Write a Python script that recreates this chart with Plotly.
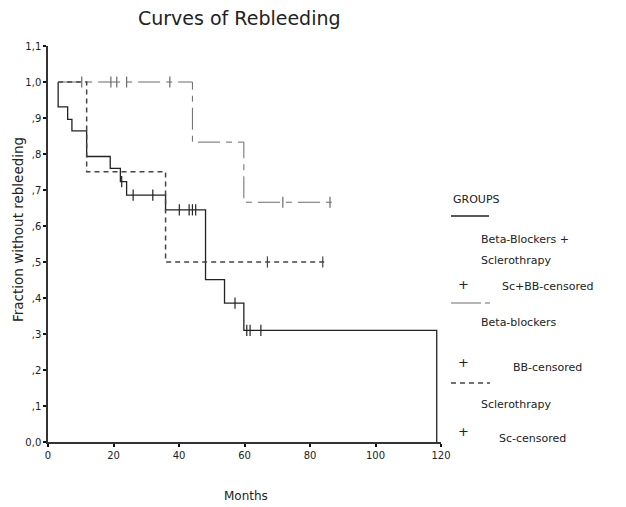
import plotly.graph_objects as go

# ---- data (months, fraction without rebleeding) ----
scbb_t = [3.1, 3.1, 6.0, 7.3, 11.8, 19.0, 22.1, 24.0, 35.9, 48.1, 53.9, 59.8, 118.7]
scbb_s = [1.0, 0.931, 0.896, 0.864, 0.793, 0.760, 0.723, 0.686, 0.645, 0.451, 0.386, 0.310, 0.0]
scbb_cens_t = [22.5, 26.0, 32.0, 40.1, 43.1, 44.1, 45.1, 57.1, 60.7, 61.7, 65.0]
scbb_cens_s = [0.723, 0.686, 0.686, 0.645, 0.645, 0.645, 0.645, 0.386, 0.310, 0.310, 0.310]

bb_t = [3.1, 44.1, 59.8, 87.1]
bb_s = [1.0, 0.833, 0.666, 0.666]
bb_cens_t = [10.3, 19.2, 21.0, 24.0, 37.2, 71.7, 86.1]
bb_cens_s = [1.0, 1.0, 1.0, 1.0, 1.0, 0.666, 0.666]

sc_t = [3.1, 11.8, 35.9, 85.1]
sc_s = [1.0, 0.751, 0.5, 0.5]
sc_cens_t = [67.0, 83.9]
sc_cens_s = [0.5, 0.5]

x_ticks = [0, 20, 40, 60, 80, 100, 120]
y_ticks = [0.0, 0.1, 0.2, 0.3, 0.4, 0.5, 0.6, 0.7, 0.8, 0.9, 1.0, 1.1]
y_ticktext = ["0,0", ",1", ",2", ",3", ",4", ",5", ",6", ",7", ",8", ",9", "1,0", "1,1"]

FONT = "DejaVu Sans"
C_SCBB = "#222222"
C_BB = "#6a6a6a"
C_SC = "#444444"
BB_DASH = "22px,6px,6px,6px"
SC_DASH = "5px,4px"

fig = go.Figure()
fig.add_trace(go.Scatter(x=scbb_t, y=scbb_s, mode="lines", line=dict(shape="hv", color=C_SCBB, width=1.3)))
fig.add_trace(go.Scatter(x=bb_t, y=bb_s, mode="lines", line=dict(shape="hv", color=C_BB, width=1.0, dash=BB_DASH)))
fig.add_trace(go.Scatter(x=sc_t, y=sc_s, mode="lines", line=dict(shape="hv", color=C_SC, width=1.5, dash=SC_DASH)))
for t, s, c in [(scbb_cens_t, scbb_cens_s, C_SCBB), (bb_cens_t, bb_cens_s, C_BB), (sc_cens_t, sc_cens_s, C_SC)]:
    fig.add_trace(go.Scatter(x=t, y=s, mode="markers",
                             marker=dict(symbol="line-ns", size=8, line=dict(color=c, width=1.2))))

# the page body has an 8px margin; reference pixel positions are shifted by it
OFF = 8
L, R, T, B = 48 - OFF, 441 - OFF, 46 - OFF, 442 - OFF
W, H = 626 - OFF, 507 - OFF

def px(p):
    return (p - OFF - L) / (R - L)

def py(p):
    return (B - (p - OFF)) / (B - T)

fig.update_layout(
    width=W, height=H,
    margin=dict(l=L, r=W - R, t=T, b=H - B),
    paper_bgcolor="white", plot_bgcolor="white",
    showlegend=False,
    font=dict(family=FONT, color="#222"),
)
fig.update_xaxes(range=[0, 120], tickvals=x_ticks, ticktext=[str(v) for v in x_ticks],
                 showgrid=False, zeroline=False, showline=True, linecolor="#333", linewidth=1.5,
                 ticks="outside", ticklen=3, tickwidth=2, tickcolor="#111",
                 tickfont=dict(size=10, family=FONT, color="#222"))
fig.update_yaxes(range=[0, 1.1], tickvals=y_ticks, ticktext=y_ticktext,
                 showgrid=False, zeroline=False, showline=True, linecolor="#333", linewidth=1.5,
                 ticks="outside", ticklen=3, tickwidth=2, tickcolor="#111",
                 tickfont=dict(size=10, family=FONT, color="#222"))

ann = []
def text(x, y, s, size=11, anchor="left"):
    ann.append(dict(x=px(x), y=py(y), xref="paper", yref="paper", text=s, showarrow=False,
                    xanchor=anchor, yanchor="middle", font=dict(size=size, family=FONT, color="#222")))

# titles
text(239, 18, "Curves of Rebleeding", size=19, anchor="center")
text(246, 496, "Months", size=12, anchor="center")
ann.append(dict(x=px(18), y=py(230), xref="paper", yref="paper", text="Fraction without rebleeding",
                showarrow=False, textangle=-90, xanchor="center", yanchor="middle",
                font=dict(size=13.5, family=FONT, color="#222")))

# legend
text(451, 199, "GROUPS")
text(479, 239, "Beta-Blockers +")
text(479, 260, "Sclerothrapy")
text(463, 284, "+", size=13, anchor="center")
text(500, 286, "Sc+BB-censored")
text(479, 322, "Beta-blockers")
text(463, 362, "+", size=13, anchor="center")
text(511, 367, "BB-censored")
text(479, 404, "Sclerothrapy")
text(463, 431, "+", size=13, anchor="center")
text(497, 438, "Sc-censored")
fig.update_layout(annotations=ann)

shapes = [
    dict(type="line", xref="paper", yref="paper", x0=px(451), x1=px(489), y0=py(216), y1=py(216),
         line=dict(color=C_SCBB, width=1.3)),
    dict(type="line", xref="paper", yref="paper", x0=px(451), x1=px(490), y0=py(303), y1=py(303),
         line=dict(color=C_BB, width=1.0, dash="30px,4px,5px,20px")),
    dict(type="line", xref="paper", yref="paper", x0=px(451), x1=px(490), y0=py(383), y1=py(383),
         line=dict(color=C_SC, width=1.5, dash=SC_DASH)),
]
fig.update_layout(shapes=shapes)

fig.write_html("out.html")
